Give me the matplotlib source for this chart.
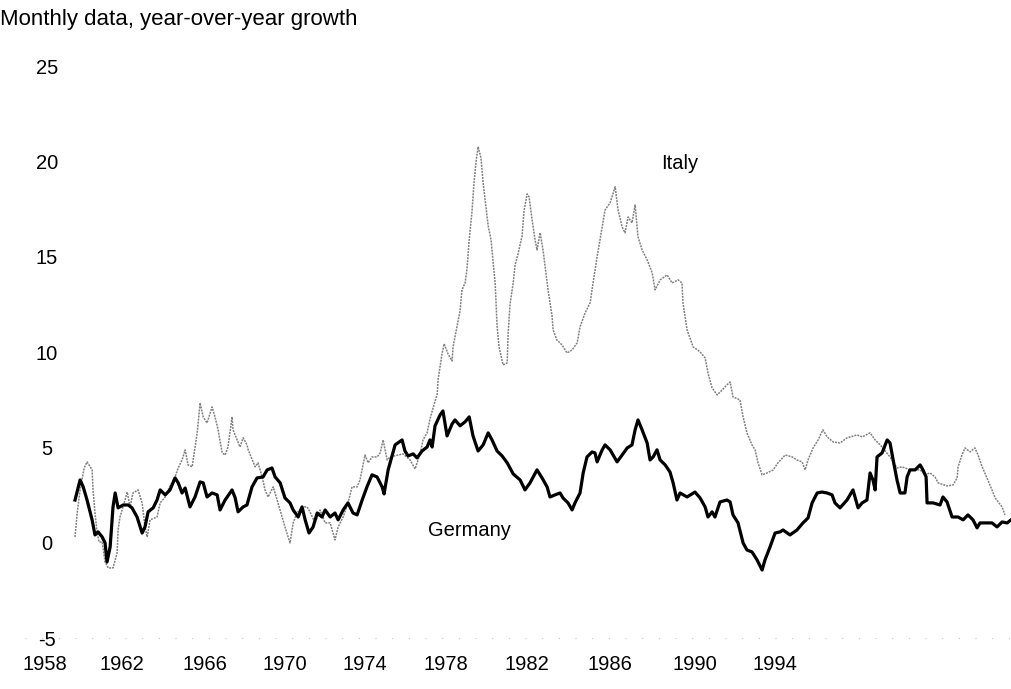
import matplotlib
matplotlib.use("Agg")
import matplotlib.pyplot as plt

plt.rcParams['font.family'] = ['Liberation Sans', 'DejaVu Sans']

TITLE = "Monthly data, year-over-year growth"

GER_YEARS = [1958.08, 1958.29, 1958.42, 1958.58, 1958.79, 1958.91, 1959.04, 1959.21, 1959.33, 1959.41,
             1959.54, 1959.66, 1959.75, 1959.87, 1960.08, 1960.29, 1960.45, 1960.66, 1960.87, 1960.99,
             1961.12, 1961.33, 1961.49, 1961.62, 1961.83, 1962.03, 1962.24, 1962.37, 1962.53, 1962.66,
             1962.86, 1963.07, 1963.28, 1963.41, 1963.57, 1963.78, 1963.99, 1964.11, 1964.32, 1964.61,
             1964.74, 1964.86, 1965.07, 1965.23, 1965.44, 1965.65, 1965.90, 1966.07, 1966.27, 1966.40,
             1966.61, 1966.81, 1967.02, 1967.15, 1967.36, 1967.52, 1967.65, 1967.81, 1967.98, 1968.15,
             1968.35, 1968.48, 1968.69, 1968.89, 1969.02, 1969.23, 1969.43, 1969.64, 1969.81, 1970.02,
             1970.22, 1970.43, 1970.64, 1970.85, 1970.93, 1971.10, 1971.39, 1971.68, 1971.80, 1971.93,
             1972.14, 1972.30, 1972.51, 1972.72, 1972.84, 1972.93, 1973.05, 1973.26, 1973.38, 1973.55,
             1973.76, 1973.88, 1974.09, 1974.30, 1974.47, 1974.63, 1974.84, 1975.05, 1975.26, 1975.42,
             1975.63, 1975.84, 1976.05, 1976.30, 1976.59, 1976.79, 1977.00, 1977.29, 1977.50, 1977.71,
             1977.83, 1978.04, 1978.25, 1978.37, 1978.58, 1978.75, 1978.87, 1979.08, 1979.21, 1979.37,
             1979.58, 1979.70, 1979.79, 1980.00, 1980.12, 1980.33, 1980.62, 1980.83, 1981.04, 1981.24,
             1981.37, 1981.49, 1981.66, 1981.87, 1981.99, 1982.12, 1982.28, 1982.41, 1982.62, 1982.82,
             1982.95, 1983.11, 1983.24, 1983.53, 1983.86, 1984.07, 1984.28, 1984.40, 1984.57, 1984.69,
             1984.90, 1985.19, 1985.32, 1985.44, 1985.65, 1985.86, 1986.02, 1986.23, 1986.44, 1986.65,
             1986.77, 1986.98, 1987.19, 1987.40, 1987.52, 1987.81, 1988.10, 1988.35, 1988.56, 1988.73,
             1988.94, 1989.14, 1989.35, 1989.56, 1989.68, 1989.89, 1990.18, 1990.43, 1990.64, 1990.81,
             1991.01, 1991.14, 1991.26, 1991.35, 1991.43, 1991.64, 1991.85, 1991.97, 1992.10, 1992.26,
             1992.39, 1992.59, 1992.68, 1992.80, 1993.01, 1993.22, 1993.34, 1993.47, 1993.51, 1993.76,
             1994.05, 1994.17, 1994.34, 1994.55, 1994.80, 1995.01, 1995.21, 1995.42, 1995.59, 1995.71,
             1996.00, 1996.21, 1996.42, 1996.63, 1996.84, 1997.00]
GER_VALUES = [2.25, 3.30, 2.94, 2.25, 1.21, 0.42, 0.58, 0.31, 0.00, -1.00,
              -0.21, 1.89, 2.62, 1.84, 1.99, 1.99, 1.84, 1.36, 0.52, 0.84,
              1.63, 1.84, 2.25, 2.78, 2.52, 2.78, 3.41, 3.15, 2.62, 2.88,
              1.89, 2.41, 3.20, 3.15, 2.41, 2.62, 2.52, 1.73, 2.25, 2.78,
              2.36, 1.63, 1.89, 1.99, 2.94, 3.41, 3.46, 3.83, 3.93, 3.46,
              3.15, 2.36, 2.10, 1.73, 1.36, 1.89, 1.21, 0.52, 0.84, 1.57,
              1.36, 1.73, 1.36, 1.57, 1.21, 1.73, 2.10, 1.57, 1.47, 2.25,
              2.94, 3.57, 3.46, 2.94, 2.57, 3.83, 5.14, 5.40, 4.82, 4.56,
              4.67, 4.46, 4.82, 5.03, 5.40, 5.03, 6.14, 6.71, 6.92, 5.61,
              6.24, 6.45, 6.14, 6.35, 6.61, 5.61, 4.82, 5.14, 5.77, 5.40,
              4.82, 4.56, 4.20, 3.62, 3.30, 2.78, 3.15, 3.83, 3.41, 2.94,
              2.41, 2.52, 2.62, 2.36, 2.10, 1.73, 2.10, 2.62, 3.67, 4.51,
              4.77, 4.72, 4.25, 4.88, 5.14, 4.88, 4.25, 4.61, 4.98, 5.14,
              5.93, 6.45, 5.93, 5.24, 4.35, 4.51, 4.88, 4.35, 4.09, 3.72,
              3.15, 2.25, 2.62, 2.41, 2.67, 2.36, 1.89, 1.36, 1.63, 1.36,
              2.15, 2.25, 2.15, 1.47, 1.05, 0.00, -0.37, -0.47, -0.89, -1.42,
              -0.89, -0.21, 0.52, 0.58, 0.68, 0.42, 0.68, 1.05, 1.31, 2.10,
              2.62, 2.67, 2.62, 2.52, 2.10, 1.84, 2.25, 2.78, 1.84, 2.10,
              2.25, 3.67, 3.30, 2.78, 4.51, 4.72, 5.40, 5.24, 4.35, 3.30,
              2.62, 2.62, 3.46, 3.83, 3.83, 4.09, 3.83, 3.46, 2.10, 2.10,
              1.99, 2.41, 2.15, 1.36, 1.36, 1.21, 1.47, 1.21, 0.79, 1.05,
              1.05, 1.05, 0.84, 1.10, 1.05, 1.21]

ITA_YEARS = [1958.08, 1958.17, 1958.29, 1958.46, 1958.58, 1958.79, 1958.83, 1958.91, 1959.00, 1959.08,
             1959.21, 1959.33, 1959.46, 1959.66, 1959.83, 1959.87, 1959.95, 1960.16, 1960.25, 1960.37,
             1960.49, 1960.70, 1960.87, 1960.99, 1961.08, 1961.20, 1961.49, 1961.62, 1961.83, 1961.95,
             1962.24, 1962.37, 1962.53, 1962.66, 1962.78, 1962.95, 1963.07, 1963.16, 1963.28, 1963.41,
             1963.57, 1963.78, 1963.90, 1964.03, 1964.20, 1964.32, 1964.44, 1964.61, 1964.65, 1964.82,
             1964.94, 1965.07, 1965.23, 1965.28, 1965.57, 1965.69, 1965.86, 1965.98, 1966.11, 1966.32,
             1966.52, 1966.69, 1966.81, 1967.02, 1967.15, 1967.31, 1967.52, 1967.73, 1967.85, 1968.06,
             1968.27, 1968.48, 1968.69, 1968.89, 1969.02, 1969.23, 1969.43, 1969.60, 1969.81, 1969.93,
             1970.14, 1970.27, 1970.43, 1970.64, 1970.77, 1970.89, 1971.06, 1971.18, 1971.72, 1972.01,
             1972.22, 1972.43, 1972.55, 1972.72, 1972.84, 1972.97, 1973.14, 1973.18, 1973.34, 1973.43,
             1973.59, 1973.76, 1973.80, 1973.97, 1974.09, 1974.17, 1974.30, 1974.38, 1974.47, 1974.59,
             1974.67, 1974.76, 1974.84, 1974.96, 1975.05, 1975.17, 1975.26, 1975.38, 1975.46, 1975.55,
             1975.59, 1975.63, 1975.71, 1975.84, 1975.88, 1976.05, 1976.09, 1976.17, 1976.30, 1976.38,
             1976.50, 1976.67, 1976.75, 1976.88, 1976.96, 1977.08, 1977.21, 1977.29, 1977.42, 1977.54,
             1977.63, 1977.75, 1977.92, 1977.96, 1978.12, 1978.33, 1978.54, 1978.75, 1978.96, 1979.08,
             1979.29, 1979.50, 1979.62, 1979.79, 1980.00, 1980.12, 1980.33, 1980.54, 1980.66, 1980.83,
             1980.95, 1981.08, 1981.24, 1981.37, 1981.49, 1981.66, 1981.87, 1982.08, 1982.20, 1982.41,
             1982.70, 1982.91, 1983.16, 1983.32, 1983.36, 1983.53, 1983.78, 1984.07, 1984.28, 1984.40,
             1984.57, 1984.78, 1984.99, 1985.19, 1985.32, 1985.44, 1985.73, 1985.86, 1986.02, 1986.23,
             1986.36, 1986.48, 1986.65, 1986.86, 1987.11, 1987.31, 1987.61, 1987.90, 1988.10, 1988.31,
             1988.44, 1988.56, 1988.77, 1988.98, 1989.18, 1989.35, 1989.60, 1989.89, 1990.18, 1990.31,
             1990.60, 1990.81, 1991.14, 1991.35, 1991.56, 1991.97, 1992.26, 1992.47, 1992.80, 1993.22,
             1993.43, 1993.63, 1993.84, 1993.97, 1994.34, 1994.59, 1994.76, 1994.80, 1994.96, 1995.09,
             1995.30, 1995.50, 1995.63, 1995.80, 1996.00, 1996.21, 1996.34, 1996.63, 1996.75]
ITA_VALUES = [0.31, 1.57, 2.78, 3.93, 4.25, 3.83, 2.78, 1.57, 0.52, 0.05,
              0.05, -1.00, -1.31, -1.31, -0.52, 0.68, 1.36, 2.25, 2.67, 1.89,
              2.62, 2.78, 2.10, 0.84, 0.31, 1.21, 1.36, 2.10, 2.41, 2.78,
              3.46, 3.93, 4.35, 4.88, 4.09, 3.99, 5.03, 5.77, 7.34, 6.61,
              6.29, 7.13, 6.61, 5.93, 4.72, 4.61, 5.03, 6.61, 5.93, 5.40,
              5.03, 5.51, 5.14, 4.88, 3.99, 4.20, 3.46, 2.78, 2.41, 2.94,
              2.10, 1.36, 0.84, 0.00, 1.05, 1.57, 1.89, 1.89, 1.63, 1.05,
              1.73, 1.05, 1.05, 0.16, 0.84, 1.36, 2.10, 2.94, 2.94, 3.30,
              4.61, 4.20, 4.51, 4.51, 4.72, 5.40, 4.35, 4.51, 4.67, 4.35,
              3.88, 4.67, 5.40, 5.77, 6.50, 7.08, 7.81, 8.60, 9.91, 10.44,
              9.91, 9.54, 10.28, 11.38, 12.17, 13.27, 13.63, 14.37, 15.89, 17.41,
              18.88, 20.03, 20.77, 20.19, 18.88, 17.57, 16.62, 15.89, 14.79, 13.63,
              12.53, 11.38, 10.28, 9.54, 9.33, 9.44, 11.01, 12.53, 13.63, 14.58,
              15.15, 16.10, 17.41, 18.30, 18.14, 16.99, 15.89, 15.36, 16.26, 15.36,
              14.47, 13.27, 11.85, 11.17, 10.64, 10.38, 9.96, 10.12, 10.49, 11.33,
              12.06, 12.59, 13.63, 15.00, 16.57, 17.46, 17.83, 18.67, 17.46, 16.57,
              16.26, 17.09, 16.78, 17.72, 16.05, 15.36, 14.84, 14.16, 13.27, 13.79,
              14.05, 13.63, 13.79, 13.63, 12.59, 11.17, 10.28, 10.02, 9.70, 8.91,
              8.13, 7.76, 8.02, 8.29, 8.44, 7.66, 7.50, 6.61, 5.77, 5.14,
              4.88, 4.20, 3.57, 3.67, 3.83, 4.20, 4.61, 4.51, 4.35, 4.25,
              3.83, 4.35, 4.98, 5.40, 5.93, 5.56, 5.30, 5.24, 5.51, 5.56,
              5.66, 5.56, 5.77, 5.40, 5.14, 4.51, 3.93, 3.99, 3.83, 3.83,
              3.57, 3.67, 3.46, 3.15, 2.99, 3.04, 3.41, 3.99, 4.61, 4.98,
              4.77, 4.98, 4.61, 3.99, 3.41, 2.78, 2.36, 1.89, 1.47]

Y_TICKS = [-5, 0, 5, 10, 15, 20, 25]
X_TICK_LABELS = ["1958", "1962", "1966", "1970", "1974", "1978", "1982", "1986", "1990", "1994"]
X_TICK_POS = [1956.84, 1960.04, 1963.49, 1966.81, 1970.14, 1973.51, 1976.88, 1980.33, 1983.86, 1987.19]

W, H = 1011, 689
fig = plt.figure(figsize=(W / 100, H / 100), dpi=100)
ax = fig.add_axes([25 / W, 44 / H, 986 / W, 590 / H])

ax.plot(ITA_YEARS, ITA_VALUES, color='#808080', lw=1.1, linestyle=(0, (1.3, 0.7)), zorder=2)
ax.plot(GER_YEARS, GER_VALUES, color='black', lw=2.3, solid_joinstyle='round', zorder=3)

ax.axhline(-5, color='#c8c8c8', lw=0.8, linestyle=(0, (1, 14)), zorder=1)

ax.set_xlim(1956.0, 1997.0)
ax.set_ylim(-5.35, 25.58)

for s in ax.spines.values():
    s.set_visible(False)

FS = 14.5
ax.set_yticks(Y_TICKS)
ax.set_yticklabels([str(v) for v in Y_TICKS], fontsize=FS)
ax.tick_params(axis='y', length=0, pad=-15.8)
for lab in ax.get_yticklabels():
    lab.set_horizontalalignment('center')

ax.set_xticks(X_TICK_POS)
ax.set_xticklabels(X_TICK_LABELS, fontsize=FS)
ax.tick_params(axis='x', length=0, pad=14.4)
for lab in ax.get_xticklabels():
    lab.set_verticalalignment('center')

ax.text(1983.24, 19.9, "Italy", fontsize=FS, ha='center', va='center')
ax.text(1974.5, 0.63, "Germany", fontsize=FS, ha='center', va='center')

fig.text(0.0, 1 - 20 / H, TITLE, fontsize=16, ha='left', va='center')

fig.savefig("out.png", dpi=100)
